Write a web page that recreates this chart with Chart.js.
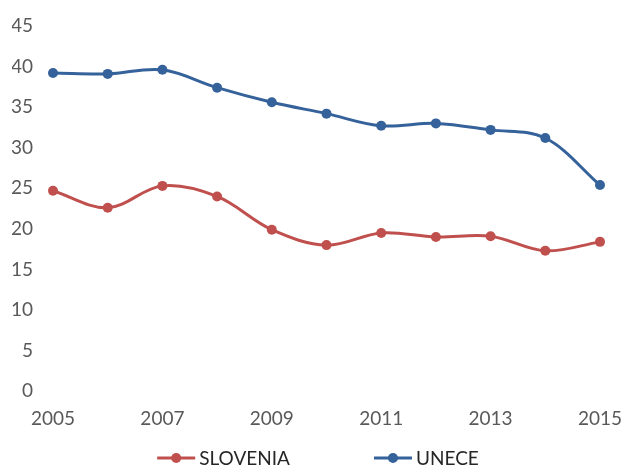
<!DOCTYPE html>
<html>
<head>
<meta charset="utf-8">
<script src="https://cdn.jsdelivr.net/npm/chart.js@4/dist/chart.umd.min.js"></script>
<style>
  html, body { margin: 0; padding: 0; background: #fff; }
  #wrap { width: 624px; height: 465px; }
</style>
</head>
<body>
<div id="wrap"><canvas id="chart" width="624" height="465"></canvas></div>
<script>
const years = ['2005', '2006', '2007', '2008', '2009', '2010', '2011', '2012', '2013', '2014', '2015'];
const slovenia = [24.7, 22.6, 25.3, 24.0, 19.9, 18.0, 19.5, 19.0, 19.1, 17.3, 18.4];
const unece = [39.2, 39.1, 39.6, 37.4, 35.6, 34.2, 32.7, 33.0, 32.2, 31.2, 25.4];

const red = '#C0504D';
const blue = '#35629A';
const textColor = '#595959';
const fontFamily = 'Lato, "Open Sans", sans-serif';

// bottom legend: short line with a dot, then the series name
const lineLegend = {
    id: 'lineLegend',
    afterDraw(chart) {
        const g = chart.ctx;
        const sets = chart.data.datasets;
        g.save();
        g.font = '19px ' + fontFamily;
        g.textBaseline = 'middle';
        const mark = 38, gapText = 4, gapItem = 84;
        let total = 0;
        sets.forEach((ds, i) => {
            total += mark + gapText + g.measureText(ds.label).width;
            if (i > 0) total += gapItem;
        });
        let x = 318 - total / 2;
        const y = 458;
        sets.forEach((ds) => {
            g.strokeStyle = ds.borderColor;
            g.fillStyle = ds.borderColor;
            g.lineWidth = 3;
            g.beginPath(); g.moveTo(x, y); g.lineTo(x + mark, y); g.stroke();
            g.beginPath(); g.arc(x + mark / 2, y, 5, 0, Math.PI * 2); g.fill();
            x += mark + gapText;
            g.fillStyle = '#262626';
            g.fillText(ds.label, x, y + 1);
            x += g.measureText(ds.label).width + gapItem;
        });
        g.restore();
    }
};

const ctx = document.getElementById('chart').getContext('2d');
const chart = new Chart(ctx, {
    type: 'line',
    data: {
        labels: years,
        datasets: [{
            label: 'SLOVENIA',
            data: slovenia,
            borderColor: red,
            backgroundColor: red,
            borderWidth: 3,
            pointRadius: 5,
            pointBorderWidth: 0,
            tension: 0.35
        }, {
            label: 'UNECE',
            data: unece,
            borderColor: blue,
            backgroundColor: blue,
            borderWidth: 3,
            pointRadius: 5,
            pointBorderWidth: 0,
            tension: 0.35
        }]
    },
    options: {
        responsive: false,
        animation: false,
        layout: { padding: { top: 26, right: 0, left: 12, bottom: 19 } },
        scales: {
            x: {
                offset: false,
                grid: { display: false, drawTicks: false },
                border: { display: false },
                afterFit: function (scale) { scale.paddingRight = 24; },
                ticks: {
                    color: textColor,
                    font: { family: fontFamily, size: 19 },
                    autoSkip: false,
                    maxRotation: 0,
                    padding: 16,
                    callback: function (v, i) { return i % 2 === 0 ? years[i] : ''; }
                }
            },
            y: {
                min: 0,
                max: 45,
                grid: { display: false, drawTicks: false },
                border: { display: false },
                afterFit: function (scale) {
                    scale.width = 41;
                    scale.paddingTop = 10;
                    scale.paddingBottom = 0;
                },
                ticks: {
                    stepSize: 5,
                    color: textColor,
                    font: { family: fontFamily, size: 19 },
                    padding: 20
                }
            }
        },
        plugins: {
            legend: { display: false },
            tooltip: { enabled: false }
        }
    },
    plugins: [lineLegend]
});
</script>
</body>
</html>
